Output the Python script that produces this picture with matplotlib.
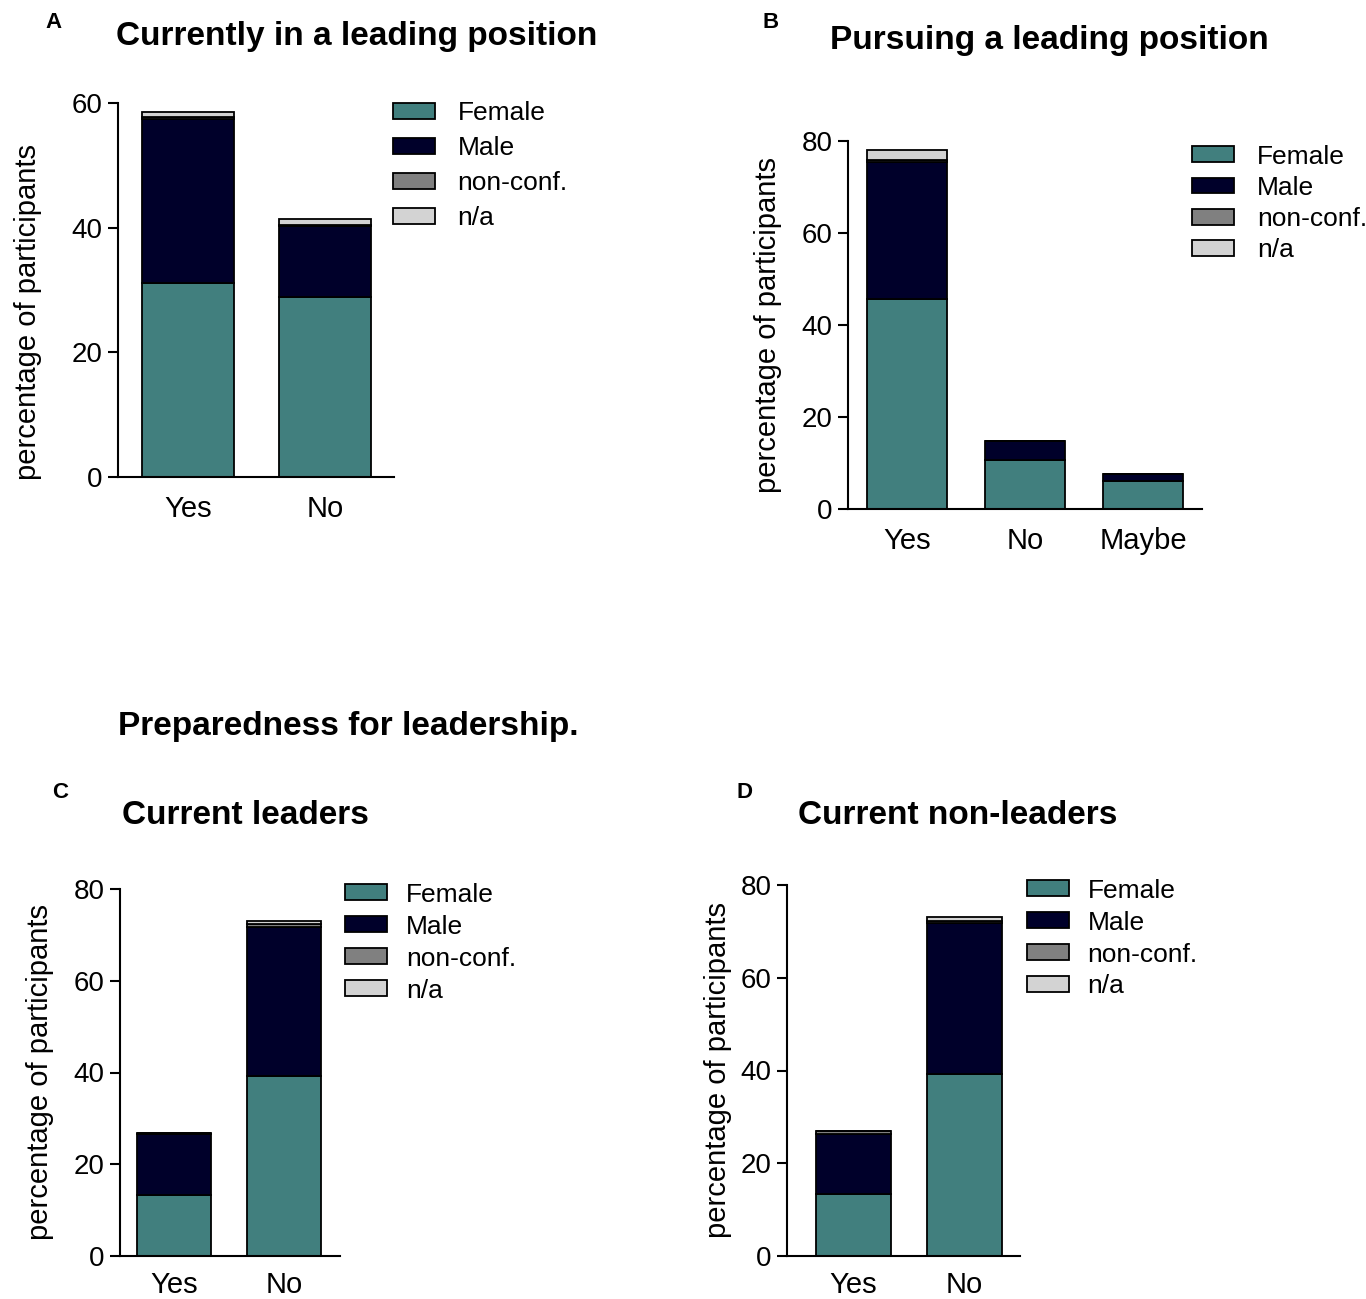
import numpy as np
import matplotlib
matplotlib.use('Agg')
import matplotlib.pyplot as plt

plt.rcParams['font.family'] = ['Liberation Sans', 'DejaVu Sans']

# stacked percentages per panel: female, male, non-conforming, n/a
groups = ['Female', 'Male', 'non-conf.', 'n/a']
colors = ['#417f7e', '#00002a', '#808080', '#d3d3d3']

cats_a = ['Yes', 'No']
female_a = [31.1, 28.9]
male_a = [26.4, 11.3]
nonconf_a = [0.3, 0.2]
na_a = [0.8, 1.0]

cats_b = ['Yes', 'No', 'Maybe']
female_b = [45.7, 10.7, 6.1]
male_b = [29.8, 4.0, 1.5]
nonconf_b = [0.3, 0.0, 0.0]
na_b = [2.2, 0.0, 0.0]

cats_c = ['Yes', 'No']
female_c = [13.3, 39.2]
male_c = [13.2, 32.6]
nonconf_c = [0.3, 0.5]
na_c = [0.0, 0.8]

cats_d = ['Yes', 'No']
female_d = [13.4, 39.3]
male_d = [13.0, 32.4]
nonconf_d = [0.5, 0.6]
na_d = [0.0, 0.8]

W, H = 1366, 1299
fig = plt.figure(figsize=(W / 100, H / 100), dpi=100)


def px_axes(left, right, top, bottom):
    return fig.add_axes([left / W, 1 - bottom / H, (right - left) / W, (bottom - top) / H])


def stacked(ax, cats, series, ymax, xlim, leg_anchor, leg_space, label_xy,
            xpad=13, textpad=0.85):
    x = np.arange(len(cats))
    base = np.zeros(len(cats))
    for vals, c, name in zip(series, colors, groups):
        vals = np.array(vals)
        ax.bar(x, vals, 0.67, bottom=base, color=c, edgecolor='black',
               linewidth=1.3, label=name)
        base += vals
    ax.set_xlim(*xlim)
    ax.set_ylim(0, ymax)
    ax.set_yticks(np.arange(0, ymax + 1, 20))
    ax.set_xticks(x)
    ax.set_xticklabels(cats)
    ax.tick_params(axis='x', length=0, pad=xpad, labelsize=21)
    ax.tick_params(axis='y', length=7.5, width=1.5, labelsize=20, pad=3.5)
    for s in ['top', 'right']:
        ax.spines[s].set_visible(False)
    for s in ['left', 'bottom']:
        ax.spines[s].set_linewidth(1.5)
    ax.set_ylabel('percentage of participants', fontsize=21)
    ax.yaxis.set_label_coords(*label_xy)
    ax.legend(loc='upper left', bbox_to_anchor=leg_anchor, frameon=False,
              fontsize=19, handlelength=1.6, handleheight=0.55,
              labelspacing=leg_space, handletextpad=textpad, borderaxespad=0,
              borderpad=0)


ax_a = px_axes(118, 394, 103, 477)
stacked(ax_a, cats_a, [female_a, male_a, nonconf_a, na_a], 60,
        (-0.51, 1.5), (0.996, 1.005), 0.42, (-0.275, 0.44))

ax_b = px_axes(848, 1202, 141, 509)
stacked(ax_b, cats_b, [female_b, male_b, nonconf_b, na_b], 80,
        (-0.5, 2.5), (0.972, 0.99), 0.27, (-0.186, 0.5))

ax_c = px_axes(120, 340, 889, 1256)
stacked(ax_c, cats_c, [female_c, male_c, nonconf_c, na_c], 80,
        (-0.49, 1.51), (1.023, 1.017), 0.3, (-0.30, 0.5), xpad=11, textpad=0.7)

ax_d = px_axes(787, 1020, 885, 1256)
stacked(ax_d, cats_d, [female_d, male_d, nonconf_d, na_d], 80,
        (-0.6, 1.5), (1.03, 1.017), 0.3, (-0.236, 0.5), xpad=11, textpad=0.7)

# panel titles and letters
title_kw = dict(fontsize=24, fontweight='bold', va='center', ha='left')
fig.text(116 / W, 1 - 37 / H, 'Currently in a leading position', **title_kw)
fig.text(830 / W, 1 - 41 / H, 'Pursuing a leading position', **title_kw)
fig.text(118 / W, 1 - 727 / H, 'Preparedness for leadership.', **title_kw)
fig.text(122 / W, 1 - 816 / H, 'Current leaders', **title_kw)
fig.text(798 / W, 1 - 816 / H, 'Current non-leaders', **title_kw)
for letter, lx, ly in [('A', 53, 22), ('B', 771, 22), ('C', 60, 793), ('D', 744, 793)]:
    fig.text(lx / W, 1 - ly / H, letter, fontsize=16, fontweight='bold',
             va='center', ha='center')

fig.savefig('out.png', dpi=100)
